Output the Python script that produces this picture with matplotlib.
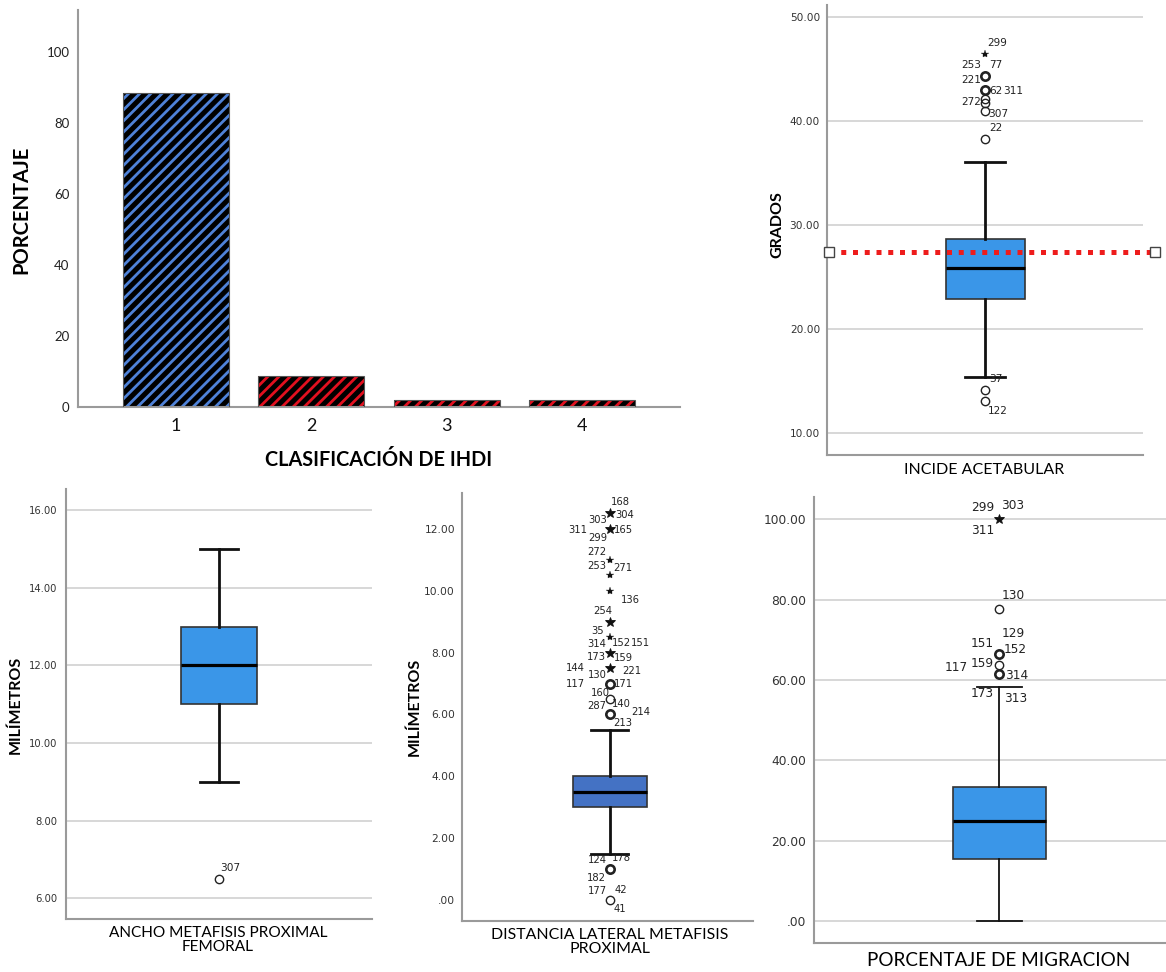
import matplotlib
matplotlib.use("Agg")
import matplotlib.pyplot as plt
from matplotlib.ticker import FuncFormatter

W, H = 1166, 972

# IHDI classification (bar chart)
ihdi_classes = [1, 2, 3, 4]
ihdi_pct = [88.3, 8.65, 2.06, 2.06]

# Indice acetabular (grados)
ia_stats = dict(med=25.86, q1=22.9, q3=28.65, whislo=15.35, whishi=36.07)
ia_reference = 27.36
ia_out_vals = [46.5, 44.4, 43.0, 42.1, 41.75, 40.95, 38.25, 14.07, 13.1]
ia_out_mark = ['*', 'o', 'o', 'o', 'o', 'o', 'o', 'o', 'o']
ia_out_bold = [False, True, True, False, False, False, False, False, False]
ia_lab_vals = [46.5, 44.4, 44.4, 43.0, 43.0, 43.0, 41.75, 40.95, 38.25, 14.07, 13.1]
ia_lab_ids = ["299", "253", "77", "221", "62", "311", "272", "307", "22", "37", "122"]

# Ancho metafisis proximal femoral (mm)
am_stats = dict(med=12.0, q1=11.0, q3=13.0, whislo=9.0, whishi=15.0)
am_out_vals = [6.5]
am_out_mark = ['o']
am_out_bold = [False]
am_lab_vals = [6.5]
am_lab_ids = ["307"]

# Distancia lateral metafisis proximal (mm)
dl_stats = dict(med=3.5, q1=3.0, q3=4.0, whislo=1.5, whishi=5.5)
dl_out_vals = [12.5, 12.0, 11.0, 10.5, 10.0, 9.0, 8.5, 8.0, 7.5, 7.0, 6.5, 6.0, 1.0, 0.0]
dl_out_mark = ['*'] * 9 + ['o'] * 5
dl_out_bold = [True, True, False, False, False, True, False, True, True, True, False, True, True, False]
dl_lab_vals = [12.5, 12.5, 12.5, 12.0, 12.0, 12.0, 11.0, 10.5, 10.5, 10.0, 9.0,
               8.5, 8.5, 8.5, 8.5, 8.0, 8.0, 7.5, 7.5, 7.5, 7.0, 7.0,
               6.5, 6.5, 6.5, 6.0, 6.0, 1.0, 1.0, 1.0, 0.0, 0.0, 0.0]
dl_lab_ids = ["168", "304", "303", "311", "165", "299", "272", "253", "271", "136", "254",
              "35", "314", "152", "151", "173", "159", "144", "130", "221", "117", "171",
              "160", "287", "140", "214", "213", "124", "178", "182", "177", "42", "41"]

# Porcentaje de migracion
pm_stats = dict(med=25.0, q1=15.43, q3=33.3, whislo=0.0, whishi=58.3)
pm_out_vals = [100.0, 77.8, 66.6, 63.7, 61.5]
pm_out_mark = ['*', 'o', 'o', 'o', 'o']
pm_out_bold = [True, False, True, False, True]
pm_lab_vals = [100.0, 100.0, 100.0, 77.8, 66.6, 66.6, 66.6, 63.7, 63.7, 61.5, 61.5, 61.5]
pm_lab_ids = ["299", "303", "311", "130", "129", "151", "152", "117", "159", "314", "173", "313"]

# label offsets in pixels (layout only)
ia_lab_off = [(12, 11), (-14, 11), (11, 11), (-14, 10), (11, -1), (28, -1), (-14, 1),
              (13, -3), (11, 11), (11, 11), (13, -10)]
am_lab_off = [(11, 11)]
dl_lab_off = [(11, 11), (15, -2), (-12, -7), (-32, -1), (14, -1), (-12, -9), (-13, 8),
              (-13, 9), (13, 7), (21, -9), (-7, 11),
              (-12, 6), (-13, -7), (12, -6), (31, -6), (-13, -4), (14, -5),
              (-34, 0), (-12, -7), (22, -3), (-34, 0), (14, 0),
              (-9, 6), (-13, -7), (12, -5), (31, 2), (13, -9),
              (-12, 9), (12, 11), (-13, -9), (-12, 9), (11, 10), (10, -9)]
pm_lab_off = [(-17, 12), (13, 14), (-17, -11), (14, 13), (14, 20), (-17, 10), (16, 4),
              (-43, -2), (-17, 2), (17, -1), (-17, -19), (16, -24)]

LABEL_FONT = "Lato"
NUM_FONT = "DejaVu Sans"
SPINE = "#9a9a9a"
GRID = "#d4d4d4"

plt.rcParams['hatch.linewidth'] = 2.0
fig = plt.figure(figsize=(W / 100, H / 100), dpi=100)


def px_axes(l, t, r, b):
    return fig.add_axes([l / W, 1 - b / H, (r - l) / W, (b - t) / H])


def fig_text(x, y, s, **kw):
    fig.text(x / W, 1 - y / H, s, ha='center', va='center', **kw)


def two_dec(v, pos):
    s = '%.2f' % v
    if s.startswith('0'):
        s = s[1:]
    return s


def style_axes(ax, ticks, size, pad, grid=True):
    for side in ['top', 'right']:
        ax.spines[side].set_visible(False)
    for side in ['left', 'bottom']:
        ax.spines[side].set_color(SPINE)
        ax.spines[side].set_linewidth(1.5)
    ax.set_xticks([])
    ax.set_yticks(ticks)
    ax.yaxis.set_major_formatter(FuncFormatter(two_dec))
    ax.tick_params(axis='y', length=0, pad=pad, labelsize=size, labelcolor='#333333')
    for lab in ax.get_yticklabels():
        lab.set_family(NUM_FONT)
    if grid:
        for t in ticks:
            ax.axhline(t, color=GRID, linewidth=1.3, zorder=0)


def draw_box(ax, stats, color, cap_w, whisk_lw):
    ax.bxp([stats], positions=[1], widths=0.5, capwidths=cap_w, patch_artist=True,
           showfliers=False, manage_ticks=False,
           boxprops=dict(facecolor=color, edgecolor='#333333', linewidth=1.2),
           medianprops=dict(color='black', linewidth=2.3),
           whiskerprops=dict(color='#111111', linewidth=whisk_lw),
           capprops=dict(color='#111111', linewidth=whisk_lw), zorder=2)


def draw_outliers(ax, vals, marks, bold, lab_vals, lab_ids, lab_off, fsize):
    for v, m, b in zip(vals, marks, bold):
        if m == 'o':
            ax.plot([1], [v], marker='o', markersize=6, markerfacecolor='none',
                    markeredgecolor='#222222', markeredgewidth=1.9 if b else 1.0,
                    linestyle='none', zorder=3, clip_on=False)
        else:
            ax.plot([1], [v], marker='*', markersize=7 if b else 6, color='#111111',
                    markeredgewidth=0.6 if b else 0.2, linestyle='none', zorder=3, clip_on=False)
    for v, s, (dx, dy) in zip(lab_vals, lab_ids, lab_off):
        ax.annotate(s, (1, v), xytext=(dx, dy), textcoords='offset pixels', ha='center',
                    va='center', fontsize=fsize, family=NUM_FONT, color='#222222')


# ---- panel 1: bar chart
ax1 = px_axes(78, 10, 680, 407)
hatch_cols = ['#4f82d8', '#e2101f', '#e2101f', '#e2101f']
ax1.bar(ihdi_classes, ihdi_pct, width=0.785, color='black', edgecolor=hatch_cols,
        hatch='///', linewidth=0, zorder=2)
ax1.bar(ihdi_classes, ihdi_pct, width=0.785, fill=False, edgecolor='#555555',
        linewidth=0.8, zorder=3)
ax1.set_xlim(0.276, 4.724)
ax1.set_ylim(0, 111.7)
for side in ['top', 'right']:
    ax1.spines[side].set_visible(False)
for side in ['left', 'bottom']:
    ax1.spines[side].set_color(SPINE)
    ax1.spines[side].set_linewidth(1.5)
ax1.set_xticks(ihdi_classes)
ax1.set_yticks([0, 20, 40, 60, 80, 100])
ax1.tick_params(axis='y', length=0, pad=6, labelsize=9.5, labelcolor='#222222')
ax1.tick_params(axis='x', length=0, pad=8, labelsize=13, labelcolor='#111111')
for lab in ax1.get_xticklabels() + ax1.get_yticklabels():
    lab.set_family(LABEL_FONT)
fig_text(21.5, 210, "PORCENTAJE", rotation=90, fontsize=14.5, fontweight='bold', family=LABEL_FONT)
fig_text(379, 460, "CLASIFICACIÓN DE IHDI", fontsize=14.3, fontweight='bold', family=LABEL_FONT)

# ---- panel 2: indice acetabular
ax2 = px_axes(827, 5, 1143, 455)
ax2.set_xlim(0, 2)
ax2.set_ylim(7.85, 51.2)
style_axes(ax2, [10, 20, 30, 40, 50], 7.6, 5)
draw_box(ax2, ia_stats, '#3a96e8', 0.253, 2.0)
draw_outliers(ax2, ia_out_vals, ia_out_mark, ia_out_bold, ia_lab_vals, ia_lab_ids, ia_lab_off, 7.6)
ax2.plot([0.013, 2.076], [ia_reference, ia_reference], color='#ee1c1c', linewidth=3.6,
         linestyle=(0, (1, 1.35)), dash_capstyle='butt', clip_on=False, zorder=4)
ax2.plot([0.013, 2.076], [ia_reference, ia_reference], linestyle='none', marker='s',
         markersize=7, markerfacecolor='white', markeredgecolor='#444444',
         markeredgewidth=1.0, clip_on=False, zorder=5)
fig_text(777, 225, "GRADOS", rotation=90, fontsize=11.5, fontweight='bold', family=LABEL_FONT)
fig_text(984, 470, "INCIDE ACETABULAR", fontsize=11.5, family=LABEL_FONT)

# ---- panel 3: ancho metafisis
ax3 = px_axes(65.7, 489, 372, 919)
ax3.set_xlim(0, 2)
ax3.set_ylim(5.46, 16.55)
style_axes(ax3, [6, 8, 10, 12, 14, 16], 7.2, 6)
draw_box(ax3, am_stats, '#3a96e8', 0.246, 2.0)
draw_outliers(ax3, am_out_vals, am_out_mark, am_out_bold, am_lab_vals, am_lab_ids, am_lab_off, 7.6)
fig_text(16, 705, "MILÍMETROS", rotation=90, fontsize=11.5, fontweight='bold', family=LABEL_FONT)
fig_text(218, 940, "ANCHO METAFISIS PROXIMAL\nFEMORAL", fontsize=11.1, family=LABEL_FONT,
         linespacing=0.95)

# ---- panel 4: distancia lateral
ax4 = px_axes(462, 492.7, 752.7, 920.7)
ax4.set_xlim(0, 1.968)
ax4.set_ylim(-0.67, 13.17)
style_axes(ax4, [0, 2, 4, 6, 8, 10, 12], 7.7, 5, grid=False)
draw_box(ax4, dl_stats, '#4472c4', 0.248, 2.0)
draw_outliers(ax4, dl_out_vals, dl_out_mark, dl_out_bold, dl_lab_vals, dl_lab_ids, dl_lab_off, 7.2)
fig_text(414, 707, "MILÍMETROS", rotation=90, fontsize=11.5, fontweight='bold', family=LABEL_FONT)
fig_text(609.7, 942, "DISTANCIA LATERAL METAFISIS\nPROXIMAL", fontsize=11.4, family=LABEL_FONT,
         linespacing=0.95)

# ---- panel 5: porcentaje de migracion
ax5 = px_axes(814.3, 497.3, 1166, 943.3)
ax5.set_xlim(0, 1.901)
ax5.set_ylim(-5.55, 105.5)
style_axes(ax5, [0, 20, 40, 60, 80, 100], 8.8, 6)
draw_box(ax5, pm_stats, '#3a96e8', 0.246, 1.3)
draw_outliers(ax5, pm_out_vals, pm_out_mark, pm_out_bold, pm_lab_vals, pm_lab_ids, pm_lab_off, 8.7)
fig_text(999, 960, "PORCENTAJE DE MIGRACION", fontsize=13.6, family=LABEL_FONT)

fig.savefig("out.png", dpi=100)
